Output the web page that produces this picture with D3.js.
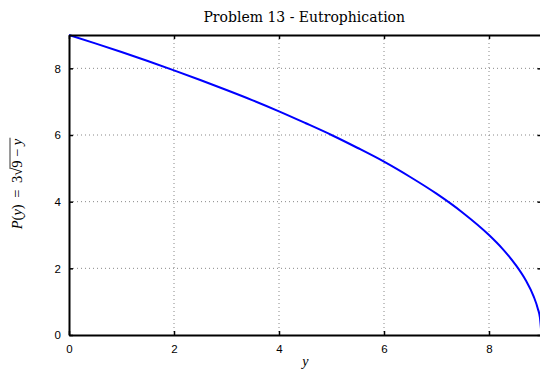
<!DOCTYPE html>
<html><head><meta charset="utf-8">
<script src="https://cdn.jsdelivr.net/npm/d3@7"></script>
<style>body{margin:0;background:#fff}svg{display:block}</style>
</head><body>
<svg id="c" width="540" height="373"></svg>
<script>
// Data (y, P(y))
const yVals = [0, 0.5, 1, 1.5, 2, 2.5, 3, 3.5, 4, 4.5, 5, 5.5, 6, 6.5, 7, 7.5, 8, 8.25, 8.5, 8.7, 8.85, 8.93, 8.97, 9];
const pVals = [9, 8.75, 8.49, 8.22, 7.94, 7.65, 7.35, 7.04, 6.71, 6.36, 6.0, 5.61, 5.2, 4.74, 4.24, 3.67, 3.0, 2.6, 2.12, 1.64, 1.16, 0.79, 0.52, 0];
const xTicks = [0, 2, 4, 6, 8];
const yTicks = [0, 2, 4, 6, 8];
const titleText = "Problem 13 - Eutrophication";

const svg = d3.select("#c");
const L = 69, R = 541.5, T = 35, B = 335;
const x = d3.scaleLinear().domain([0, 9]).range([L, R]);
const y = d3.scaleLinear().domain([0, 9]).range([B, T]);

// grid
const grid = svg.append("g").attr("stroke", "#888").attr("stroke-width", 1).attr("stroke-dasharray", "1,3");
xTicks.filter(d => d > 0).forEach(d => grid.append("line").attr("x1", x(d)).attr("x2", x(d)).attr("y1", T).attr("y2", B));
yTicks.filter(d => d > 0).forEach(d => grid.append("line").attr("x1", L).attr("x2", R).attr("y1", y(d)).attr("y2", y(d)));

// curve
const pts = yVals.map((v, i) => [v, pVals[i]]);
svg.append("path").datum(pts)
  .attr("d", d3.line().x(d => x(d[0])).y(d => y(d[1])).curve(d3.curveMonotoneX))
  .attr("fill", "none").attr("stroke", "#0000ff").attr("stroke-width", 2);

// axes (MATLAB-style box with inward ticks)
const tl = 4;
const xb = d3.axisBottom(x).tickValues(xTicks).tickSizeInner(-tl).tickSizeOuter(0).tickPadding(6 + tl).tickFormat(d3.format("d"));
const gxb = svg.append("g").attr("transform", `translate(0,${B})`).call(xb);
const xt = d3.axisTop(x).tickValues(xTicks).tickSizeInner(-tl).tickSizeOuter(0).tickFormat("");
const gxt = svg.append("g").attr("transform", `translate(0,${T})`).call(xt);
const yl = d3.axisLeft(y).tickValues(yTicks).tickSizeInner(-tl).tickSizeOuter(0).tickPadding(4 + tl).tickFormat(d3.format("d"));
const gyl = svg.append("g").attr("transform", `translate(${L},0)`).call(yl);
const yr = d3.axisRight(y).tickValues(yTicks).tickSizeInner(-tl).tickSizeOuter(0).tickFormat("");
const gyr = svg.append("g").attr("transform", `translate(${R},0)`).call(yr);
[gxb, gxt, gyl, gyr].forEach(g => {
  g.select(".domain").attr("stroke", "#000").attr("stroke-width", 2);
  g.selectAll(".tick line").attr("stroke", "#000").attr("stroke-width", 1.5);
  g.selectAll("text").attr("font-family", "Liberation Sans, Arial, sans-serif").attr("font-size", 11.5).attr("fill", "#000");
});

// title
svg.append("text").attr("x", (L + R) / 2 - 1).attr("y", 22).attr("text-anchor", "middle")
  .attr("font-family", "DejaVu Serif, Liberation Serif, serif").attr("font-size", 14).text(titleText);

// x label
svg.append("text").attr("x", (L + R) / 2).attr("y", 366).attr("text-anchor", "middle")
  .attr("font-family", "Liberation Serif, serif").attr("font-style", "italic").attr("font-size", 14).text("y");

// y label: P(y) = 3√(9 − y)
const g = svg.append("g").attr("transform", "translate(22,184) rotate(-90)");
const t = g.append("text").attr("font-family", "Liberation Serif, serif").attr("font-size", 14.5).attr("text-anchor", "middle");
t.append("tspan").attr("font-style", "italic").text("P");
t.append("tspan").text("(");
t.append("tspan").attr("font-style", "italic").text("y");
t.append("tspan").text(") \u2009=\u2009 3√");
t.append("tspan").text("9 − ");
t.append("tspan").attr("font-style", "italic").text("y");
// overline over radicand
const node = t.node();
const n = node.getNumberOfChars();
const full = node.textContent;
const startIdx = full.indexOf("9 − ");
const s = node.getStartPositionOfChar(startIdx);
const e = node.getEndPositionOfChar(n - 1);
g.append("line").attr("x1", s.x - 1).attr("x2", e.x + 1).attr("y1", -12).attr("y2", -12).attr("stroke", "#000").attr("stroke-width", 0.8);
</script>
</body></html>
